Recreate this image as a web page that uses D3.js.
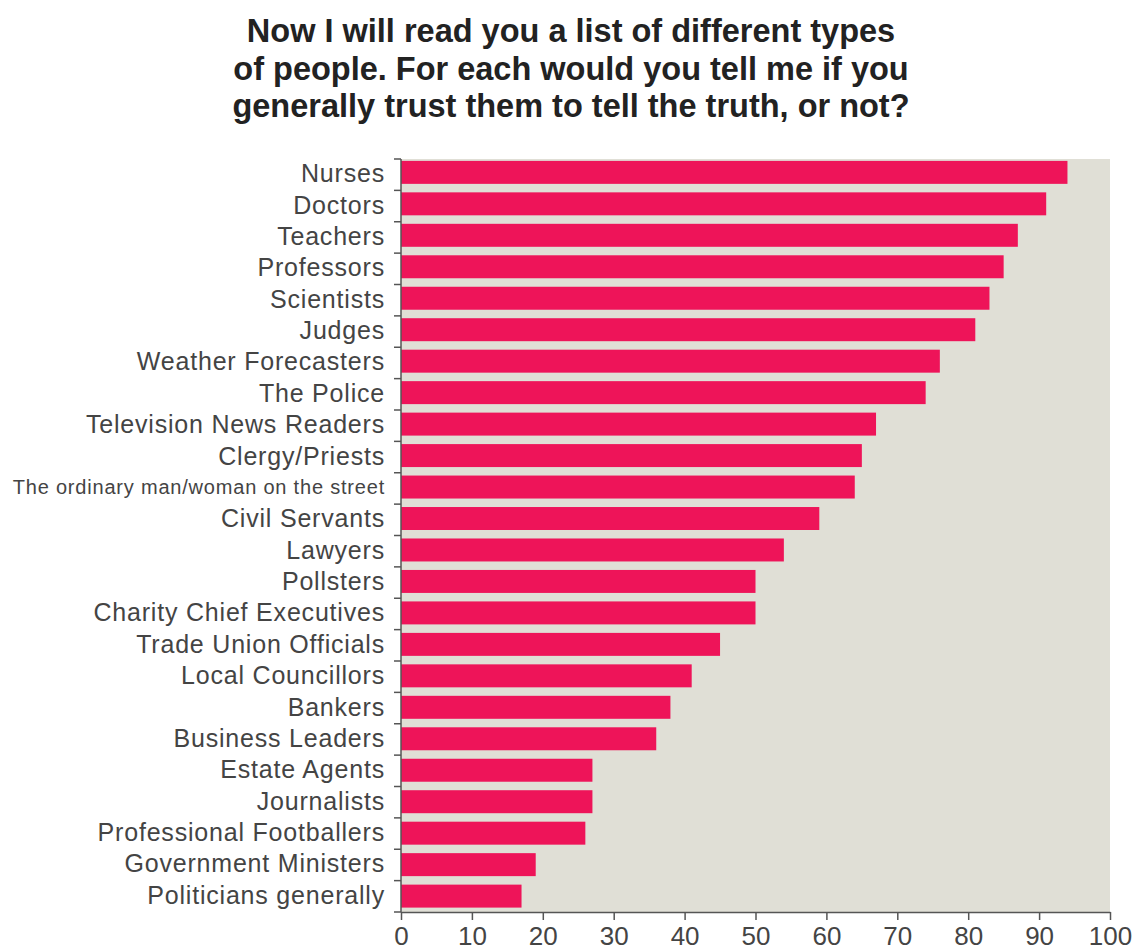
<!DOCTYPE html>
<html>
<head>
<meta charset="utf-8">
<script src="https://cdn.jsdelivr.net/npm/d3@7"></script>
<style>
  body { margin: 0; background: #fff; }
  svg { display: block; }
  .title { font-family: "Liberation Sans", Arial, sans-serif; font-weight: bold; font-size: 32.5px; fill: #222; }
  .axis text { font-family: "Liberation Sans", Arial, sans-serif; fill: #444; }
  .axis path, .axis line { stroke: #555; stroke-width: 1.5; }
</style>
</head>
<body>
<svg id="chart" width="1140" height="952"></svg>
<script>
var categories = ["Nurses", "Doctors", "Teachers", "Professors", "Scientists", "Judges",
  "Weather Forecasters", "The Police", "Television News Readers", "Clergy/Priests",
  "The ordinary man/woman on the street", "Civil Servants", "Lawyers", "Pollsters",
  "Charity Chief Executives", "Trade Union Officials", "Local Councillors", "Bankers",
  "Business Leaders", "Estate Agents", "Journalists", "Professional Footballers",
  "Government Ministers", "Politicians generally"];
var trust = [94, 91, 87, 85, 83, 81, 76, 74, 67, 65, 64, 59, 54, 50, 50, 45, 41, 38, 36, 27, 27, 26, 19, 17];
var xTicks = [0, 10, 20, 30, 40, 50, 60, 70, 80, 90, 100];
var titleLines = ["Now I will read you a list of different types",
  "of people. For each would you tell me if you",
  "generally trust them to tell the truth, or not?"];

var svg = d3.select("#chart");
var plotL = 401, plotR = 1110, plotT = 159, plotB = 912;

var x = d3.scaleLinear().domain([0, 100]).range([plotL, plotR]);
var y = d3.scaleBand().domain(categories).range([plotT, plotB]).paddingInner(0.27).paddingOuter(0.1).align(0.3);

// title
svg.selectAll("text.title").data(titleLines).enter().append("text")
  .attr("class", "title")
  .attr("x", 571)
  .attr("y", function (d, i) { return 42 + i * 37.5; })
  .attr("text-anchor", "middle")
  .text(function (d) { return d; });

// plot background
svg.append("rect")
  .attr("x", plotL).attr("y", plotT)
  .attr("width", plotR - plotL).attr("height", plotB - plotT)
  .attr("fill", "#e0dfd6");

// bars
svg.selectAll("rect.bar").data(categories).enter().append("rect")
  .attr("class", "bar")
  .attr("x", x(0))
  .attr("y", function (d) { return y(d); })
  .attr("width", function (d, i) { return x(trust[i]) - x(0); })
  .attr("height", y.bandwidth())
  .attr("fill", "#ee1459");

// y axis: ticks on band boundaries
var yAxisG = svg.append("g").attr("class", "axis");
var step = (plotB - plotT) / categories.length;
yAxisG.append("line").attr("x1", plotL).attr("x2", plotL).attr("y1", plotT).attr("y2", plotB);
yAxisG.selectAll("line.tk").data(d3.range(categories.length + 1)).enter().append("line")
  .attr("class", "tk")
  .attr("x1", plotL - 7).attr("x2", plotL)
  .attr("y1", function (d) { return plotT + d * step; })
  .attr("y2", function (d) { return plotT + d * step; });
yAxisG.selectAll("text").data(categories).enter().append("text")
  .attr("x", plotL - 16)
  .attr("y", function (d, i) { return plotT + (i + 0.5) * step; })
  .attr("dy", "0.3em")
  .attr("text-anchor", "end")
  .style("font-size", function (d) { return d.length > 30 ? "20px" : "25px"; })
  .style("letter-spacing", "0.8px")
  .text(function (d) { return d; });

// x axis
var xAxis = d3.axisBottom(x).tickValues(xTicks).tickSize(8).tickPadding(7).tickSizeOuter(0);
var xg = svg.append("g").attr("class", "axis")
  .attr("transform", "translate(0," + plotB + ")")
  .call(xAxis);
xg.selectAll("text").style("font-size", "26px");
</script>
</body>
</html>
